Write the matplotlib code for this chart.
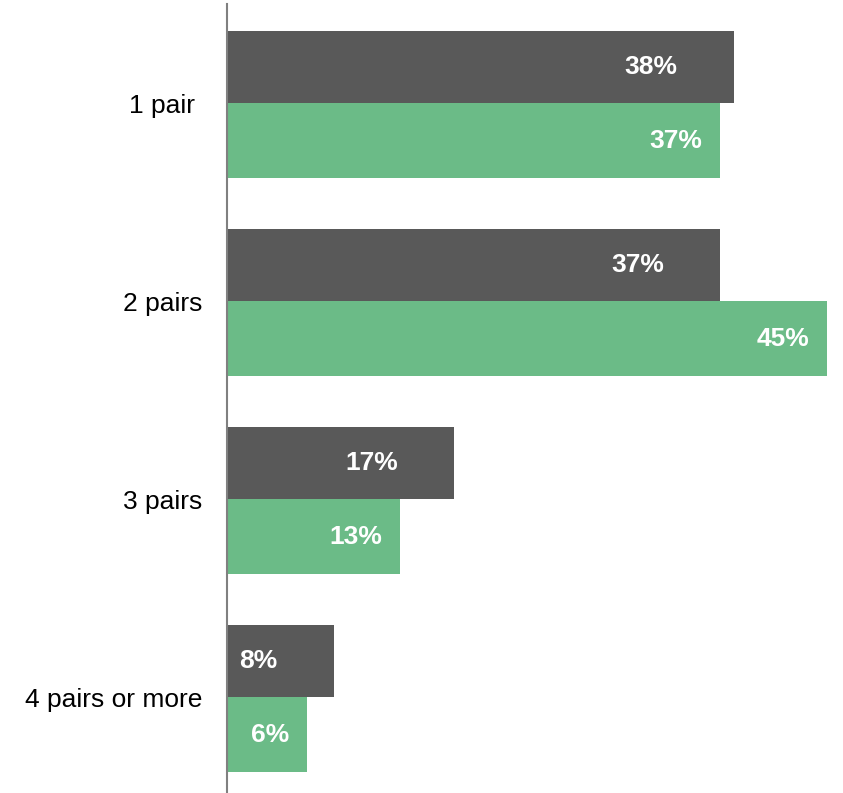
import matplotlib.pyplot as plt
import numpy as np

plt.rcParams['font.family'] = ['Liberation Sans', 'DejaVu Sans']

categories = ["1 pair ", "2 pairs", "3 pairs", "4 pairs or more"]
series_dark = [38, 37, 17, 8]
series_green = [37, 45, 13, 6]

dark_color = "#595959"
green_color = "#6BBB87"

fig = plt.figure(figsize=(8.43, 7.93), dpi=100)
ax = fig.add_axes([227 / 843, -3 / 793, 616 / 843, 792 / 793])

y = np.arange(len(categories))
h_dark = 0.365
h_green = 0.38

bars_dark = ax.barh(y - h_dark / 2, series_dark, height=h_dark, color=dark_color)
bars_green = ax.barh(y + h_green / 2, series_green, height=h_green, color=green_color)

# value labels sit inside the bar ends
for bar, v in zip(bars_dark, series_dark):
    ax.annotate(f"{v}%", (bar.get_width(), bar.get_y() + bar.get_height() / 2),
                xytext=(-56, 0), textcoords="offset pixels",
                ha="right", va="center", color="white", fontsize=19, fontweight="bold")
for bar, v in zip(bars_green, series_green):
    ax.annotate(f"{v}%", (bar.get_width(), bar.get_y() + bar.get_height() / 2),
                xytext=(-18, 0), textcoords="offset pixels",
                ha="right", va="center", color="white", fontsize=19, fontweight="bold")

ax.set_xlim(0, 45 * 616 / 600)
ax.set_ylim(3.5, -0.5)
ax.set_yticks(y)
ax.set_yticklabels(categories, fontsize=19)
ax.tick_params(axis="y", length=0, pad=18)
ax.set_xticks([])

for s in ["top", "right", "bottom"]:
    ax.spines[s].set_visible(False)
ax.spines["left"].set_color("#808080")
ax.spines["left"].set_linewidth(1.5)

fig.savefig("out.png", dpi=100)
